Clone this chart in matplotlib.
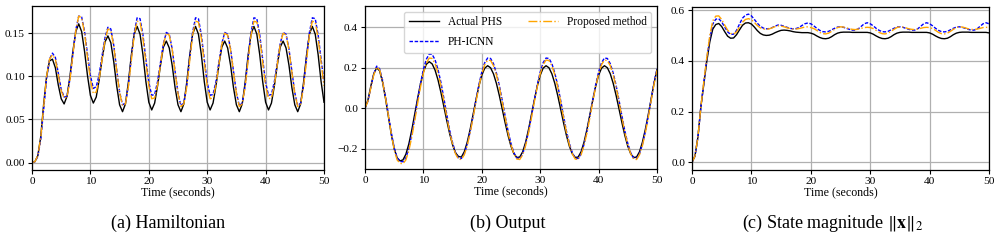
import numpy as np
import matplotlib
matplotlib.use("Agg")
import matplotlib.pyplot as plt

plt.rcParams["font.family"] = ["Liberation Serif", "DejaVu Serif"]
plt.rcParams["mathtext.fontset"] = "stix"

# time grid (seconds), 0.5 s sampling
time_s = np.arange(0, 50.5, 0.5)

# (a) Hamiltonian
ham_actual = [
    0.000, 0.001, 0.008, 0.030, 0.068, 0.100, 0.118, 0.120, 0.110, 0.090, 0.074, 0.068,
    0.077, 0.100, 0.129, 0.152, 0.161, 0.152, 0.129, 0.101, 0.078, 0.069,
    0.076, 0.096, 0.120, 0.140, 0.147, 0.139, 0.117, 0.089, 0.067, 0.059,
    0.068, 0.093, 0.124, 0.149, 0.158, 0.149, 0.125, 0.094, 0.070, 0.061,
    0.069, 0.089, 0.113, 0.134, 0.141, 0.133, 0.113, 0.087, 0.067, 0.059,
    0.068, 0.093, 0.124, 0.149, 0.158, 0.149, 0.125, 0.094, 0.070, 0.061,
    0.069, 0.089, 0.113, 0.134, 0.141, 0.133, 0.113, 0.087, 0.067, 0.059,
    0.068, 0.093, 0.124, 0.149, 0.158, 0.149, 0.125, 0.094, 0.070, 0.061,
    0.069, 0.089, 0.113, 0.134, 0.141, 0.133, 0.113, 0.087, 0.067, 0.059,
    0.068, 0.093, 0.124, 0.149, 0.158, 0.149, 0.125, 0.094, 0.070,
]
ham_icnn = [
    0.000, 0.001, 0.007, 0.027, 0.062, 0.098, 0.120, 0.127, 0.122, 0.104, 0.085, 0.076,
    0.077, 0.097, 0.126, 0.154, 0.170, 0.169, 0.152, 0.126, 0.101, 0.086,
    0.088, 0.102, 0.124, 0.145, 0.157, 0.155, 0.136, 0.108, 0.082, 0.067,
    0.069, 0.089, 0.121, 0.151, 0.168, 0.167, 0.148, 0.120, 0.093, 0.078,
    0.079, 0.094, 0.116, 0.138, 0.151, 0.149, 0.132, 0.106, 0.081, 0.066,
    0.069, 0.089, 0.121, 0.151, 0.168, 0.167, 0.148, 0.120, 0.093, 0.078,
    0.079, 0.094, 0.116, 0.138, 0.151, 0.149, 0.132, 0.106, 0.081, 0.066,
    0.069, 0.089, 0.121, 0.151, 0.168, 0.167, 0.148, 0.120, 0.093, 0.078,
    0.079, 0.094, 0.116, 0.138, 0.151, 0.149, 0.132, 0.106, 0.081, 0.066,
    0.069, 0.089, 0.121, 0.151, 0.168, 0.167, 0.148, 0.120, 0.093,
]
ham_proposed = [
    0.000, 0.001, 0.008, 0.029, 0.065, 0.100, 0.120, 0.125, 0.120, 0.102, 0.083, 0.075,
    0.076, 0.096, 0.125, 0.153, 0.170, 0.168, 0.150, 0.122, 0.096, 0.080,
    0.082, 0.097, 0.120, 0.142, 0.155, 0.153, 0.135, 0.107, 0.081, 0.066,
    0.068, 0.088, 0.118, 0.148, 0.164, 0.163, 0.144, 0.116, 0.089, 0.074,
    0.075, 0.090, 0.114, 0.137, 0.150, 0.148, 0.131, 0.105, 0.080, 0.065,
    0.068, 0.088, 0.118, 0.148, 0.164, 0.163, 0.144, 0.116, 0.089, 0.074,
    0.075, 0.090, 0.114, 0.137, 0.150, 0.148, 0.131, 0.105, 0.080, 0.065,
    0.068, 0.088, 0.118, 0.148, 0.164, 0.163, 0.144, 0.116, 0.089, 0.074,
    0.075, 0.090, 0.114, 0.137, 0.150, 0.148, 0.131, 0.105, 0.080, 0.065,
    0.068, 0.088, 0.118, 0.148, 0.164, 0.163, 0.144, 0.116, 0.089,
]

# (b) Output
out_actual = [
    0.000, 0.040, 0.110, 0.170, 0.200, 0.185, 0.130, 0.050, -0.040, -0.130, -0.200, -0.245, -0.260,
    -0.255, -0.227, -0.177, -0.109, -0.031, 0.048, 0.121, 0.179, 0.217, 0.230,
    0.219, 0.188, 0.140, 0.078, 0.009, -0.061, -0.126, -0.181, -0.220, -0.238,
    -0.241, -0.215, -0.168, -0.105, -0.032, 0.041, 0.109, 0.163, 0.198, 0.210,
    0.200, 0.170, 0.123, 0.063, -0.004, -0.072, -0.135, -0.188, -0.225, -0.243,
    -0.241, -0.215, -0.168, -0.105, -0.032, 0.041, 0.109, 0.163, 0.198, 0.210,
    0.200, 0.170, 0.123, 0.063, -0.004, -0.072, -0.135, -0.188, -0.225, -0.243,
    -0.241, -0.215, -0.168, -0.105, -0.032, 0.041, 0.109, 0.163, 0.198, 0.210,
    0.200, 0.170, 0.123, 0.063, -0.004, -0.072, -0.135, -0.188, -0.225, -0.243,
    -0.241, -0.215, -0.168, -0.105, -0.032, 0.045, 0.125, 0.190,
]
out_icnn = [
    0.000, 0.035, 0.100, 0.170, 0.208, 0.195, 0.140, 0.060, -0.030, -0.120, -0.195, -0.245, -0.263,
    -0.264, -0.245, -0.199, -0.131, -0.050, 0.038, 0.121, 0.192, 0.242, 0.268,
    0.266, 0.239, 0.191, 0.128, 0.050, -0.030, -0.108, -0.171, -0.219, -0.246,
    -0.248, -0.225, -0.179, -0.116, -0.040, 0.040, 0.116, 0.179, 0.225, 0.248,
    0.246, 0.220, 0.174, 0.113, 0.039, -0.039, -0.113, -0.174, -0.220, -0.246,
    -0.248, -0.225, -0.179, -0.116, -0.040, 0.040, 0.116, 0.179, 0.225, 0.248,
    0.246, 0.220, 0.174, 0.113, 0.039, -0.039, -0.113, -0.174, -0.220, -0.246,
    -0.248, -0.225, -0.179, -0.116, -0.040, 0.040, 0.116, 0.179, 0.225, 0.248,
    0.246, 0.220, 0.174, 0.113, 0.039, -0.039, -0.113, -0.174, -0.220, -0.246,
    -0.248, -0.225, -0.179, -0.116, -0.040, 0.045, 0.128, 0.195,
]
out_proposed = [
    0.000, 0.035, 0.100, 0.165, 0.203, 0.190, 0.135, 0.055, -0.035, -0.125, -0.205, -0.255, -0.272,
    -0.274, -0.255, -0.210, -0.144, -0.064, 0.022, 0.104, 0.173, 0.223, 0.248,
    0.246, 0.220, 0.174, 0.112, 0.036, -0.041, -0.117, -0.178, -0.225, -0.251,
    -0.253, -0.230, -0.185, -0.122, -0.047, 0.032, 0.107, 0.170, 0.215, 0.238,
    0.236, 0.210, 0.165, 0.105, 0.031, -0.046, -0.120, -0.180, -0.225, -0.251,
    -0.253, -0.230, -0.185, -0.122, -0.047, 0.032, 0.107, 0.170, 0.215, 0.238,
    0.236, 0.210, 0.165, 0.105, 0.031, -0.046, -0.120, -0.180, -0.225, -0.251,
    -0.253, -0.230, -0.185, -0.122, -0.047, 0.032, 0.107, 0.170, 0.215, 0.238,
    0.236, 0.210, 0.165, 0.105, 0.031, -0.046, -0.120, -0.180, -0.225, -0.251,
    -0.253, -0.230, -0.185, -0.122, -0.047, 0.038, 0.120, 0.188,
]

# (c) State magnitude
norm_actual = [
    0.000, 0.025, 0.100, 0.220, 0.310, 0.400, 0.475, 0.525, 0.543, 0.547,
    0.535, 0.515, 0.497, 0.489, 0.490, 0.503, 0.522, 0.540, 0.549, 0.550,
    0.545, 0.533, 0.519, 0.508, 0.502, 0.500, 0.501, 0.505, 0.511, 0.516,
    0.520, 0.521, 0.520, 0.518, 0.515, 0.513, 0.512, 0.511, 0.511, 0.511, 0.509,
    0.505, 0.498, 0.492, 0.488, 0.487, 0.489, 0.495, 0.503, 0.509, 0.512,
    0.513, 0.513, 0.513, 0.512, 0.512, 0.512, 0.512, 0.512, 0.512, 0.510,
    0.505, 0.498, 0.492, 0.488, 0.487, 0.489, 0.495, 0.503, 0.509, 0.512,
    0.513, 0.513, 0.513, 0.512, 0.512, 0.512, 0.512, 0.512, 0.512, 0.510,
    0.505, 0.498, 0.492, 0.488, 0.487, 0.489, 0.495, 0.503, 0.509, 0.512,
    0.513, 0.513, 0.513, 0.512, 0.512, 0.512, 0.512, 0.512, 0.512, 0.510,
]
norm_icnn = [
    0.000, 0.025, 0.100, 0.220, 0.315, 0.410, 0.490, 0.545, 0.564, 0.566,
    0.553, 0.533, 0.514, 0.504, 0.505, 0.520, 0.545, 0.568, 0.580, 0.584,
    0.577, 0.563, 0.548, 0.536, 0.529, 0.526, 0.527, 0.531, 0.537, 0.541,
    0.540, 0.536, 0.532, 0.528, 0.526, 0.527, 0.531, 0.539, 0.546, 0.549, 0.546,
    0.538, 0.528, 0.520, 0.515, 0.514, 0.516, 0.522, 0.528, 0.533, 0.534,
    0.532, 0.528, 0.524, 0.521, 0.521, 0.526, 0.536, 0.546, 0.550, 0.546,
    0.538, 0.528, 0.520, 0.515, 0.514, 0.516, 0.522, 0.528, 0.533, 0.534,
    0.532, 0.528, 0.524, 0.521, 0.521, 0.526, 0.536, 0.546, 0.550, 0.546,
    0.538, 0.528, 0.520, 0.515, 0.514, 0.516, 0.522, 0.528, 0.533, 0.534,
    0.532, 0.528, 0.524, 0.521, 0.521, 0.526, 0.536, 0.546, 0.550, 0.546,
]
norm_proposed = [
    0.000, 0.025, 0.100, 0.220, 0.320, 0.415, 0.500, 0.558, 0.576, 0.577,
    0.563, 0.541, 0.521, 0.508, 0.505, 0.514, 0.533, 0.552, 0.563, 0.566,
    0.562, 0.551, 0.539, 0.530, 0.525, 0.524, 0.526, 0.530, 0.535, 0.538,
    0.537, 0.534, 0.530, 0.527, 0.525, 0.525, 0.527, 0.530, 0.533, 0.534, 0.531,
    0.527, 0.520, 0.512, 0.507, 0.506, 0.509, 0.516, 0.524, 0.531, 0.534,
    0.533, 0.530, 0.526, 0.524, 0.523, 0.525, 0.528, 0.531, 0.532, 0.531,
    0.527, 0.520, 0.512, 0.507, 0.506, 0.509, 0.516, 0.524, 0.531, 0.534,
    0.533, 0.530, 0.526, 0.524, 0.523, 0.525, 0.528, 0.531, 0.532, 0.531,
    0.527, 0.520, 0.512, 0.507, 0.506, 0.509, 0.516, 0.524, 0.531, 0.534,
    0.533, 0.530, 0.526, 0.524, 0.523, 0.525, 0.528, 0.531, 0.532, 0.531,
]

captions = ["(a) Hamiltonian", "(b) Output", r"(c) State magnitude $\|\mathbf{x}\|_2$"]
y_limits = [(-0.0087, 0.1817), (-0.30, 0.505), (-0.030, 0.612)]
y_ticks = [[0.00, 0.05, 0.10, 0.15], [-0.2, 0.0, 0.2, 0.4], [0.0, 0.2, 0.4, 0.6]]
y_fmt = ["{:.2f}", "{:.1f}", "{:.1f}"]
series = [
    (ham_actual, ham_icnn, ham_proposed),
    (out_actual, out_icnn, out_proposed),
    (norm_actual, norm_icnn, norm_proposed),
]

W, H = 1002, 240
# axes boxes in pixels: left, top, right, bottom
boxes = [(32, 6, 324, 170), (365, 6, 657, 169), (692, 7, 989, 170)]
caption_x = [168, 508, 833]

fig = plt.figure(figsize=(W / 100, H / 100), dpi=100)
for i, (l, t, r, b) in enumerate(boxes):
    ax = fig.add_axes([l / W, 1 - b / H, (r - l) / W, (b - t) / H])
    actual, icnn, proposed = series[i]
    ax.plot(time_s, actual, color="black", lw=1.0, label="Actual PHS")
    ax.plot(time_s, icnn, color="blue", lw=1.0, ls=(0, (2.5, 1.2)), label="PH-ICNN")
    ax.plot(time_s, proposed, color="orange", lw=1.0, ls="-.", label="Proposed method")
    ax.set_xlim(0, 50)
    ax.set_ylim(*y_limits[i])
    ax.set_xticks([0, 10, 20, 30, 40, 50])
    ax.set_yticks(y_ticks[i])
    ax.set_yticklabels([y_fmt[i].format(v).replace("-", "\u2212") for v in y_ticks[i]])
    ax.tick_params(labelsize=8.2, length=3, width=0.8, pad=2)
    ax.grid(True, color="#b0b0b0", lw=0.9)
    ax.set_xlabel("Time (seconds)", fontsize=8.6, labelpad=0)
    for sp in ax.spines.values():
        sp.set_linewidth(0.9)
    if i == 1:
        ax.legend(loc="upper right", ncol=2, fontsize=8.3, handlelength=2.6,
                  columnspacing=2.2, labelspacing=0.7, borderaxespad=0.5,
                  framealpha=0.8)
    fig.text(caption_x[i] / W, 1 - 223 / H, captions[i], ha="center", va="center", fontsize=13)

fig.savefig("out.png", dpi=100)
